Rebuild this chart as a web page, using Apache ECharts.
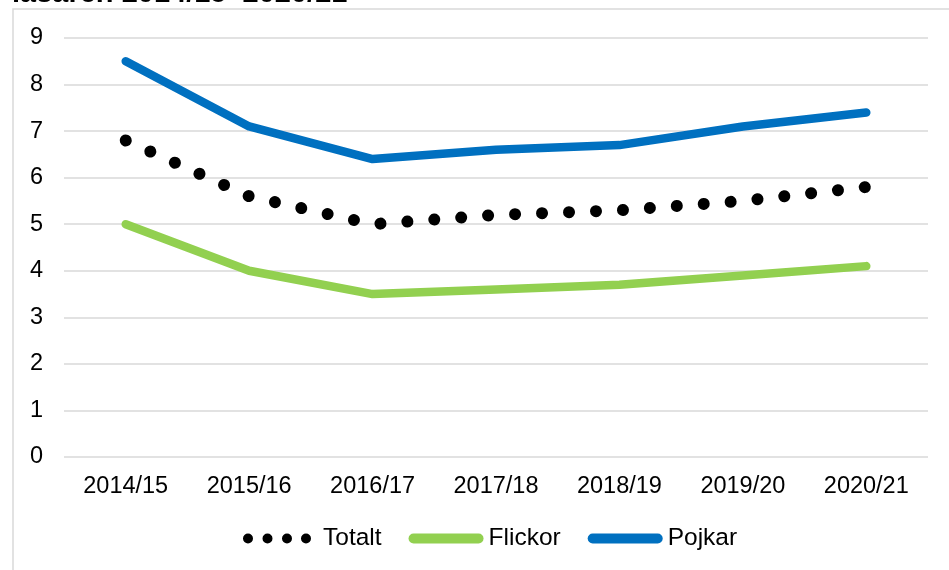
<!DOCTYPE html>
<html>
<head>
<meta charset="utf-8">
<script src="https://cdn.jsdelivr.net/npm/echarts@6/dist/echarts.min.js"></script>
<style>html,body{margin:0;padding:0;background:#fff;}#c{width:949px;height:570px;}</style>
</head>
<body>
<div id="c"></div>
<script>
const categories = ['2014/15','2015/16','2016/17','2017/18','2018/19','2019/20','2020/21'];
const totalt = [6.8, 5.6, 5.0, 5.2, 5.3, 5.5, 5.8];
const flickor = [5.0, 4.0, 3.5, 3.6, 3.7, 3.9, 4.1];
const pojkar = [8.5, 7.1, 6.4, 6.6, 6.7, 7.1, 7.4];
const titleText = 'läsåren 2014/15–2020/21';

const FONT = '"Liberation Sans", Arial, sans-serif';

function circle(cx, cy, r) {
  return 'M' + (cx + r) + ',' + cy + ' A' + r + ',' + r + ' 0 1 1 ' + (cx - r) + ',' + cy +
         ' A' + r + ',' + r + ' 0 1 1 ' + (cx + r) + ',' + cy + ' Z ';
}
const dotsIcon = 'path://M0,5 L0,5 ' + circle(5, 5, 5) + circle(24.5, 5, 5) + circle(44, 5, 5) + circle(63, 5, 5) + 'M75,5 L75,5';
const pillIcon = 'path://M5,0 L70,0 A5,5 0 0 1 70,10 L5,10 A5,5 0 0 1 5,0 Z';

const chart = echarts.init(document.getElementById('c'), null, {renderer: 'canvas'});
const option = {
  animation: false,
  backgroundColor: '#fff',
  graphic: [
    {type: 'rect', shape: {x: 13, y: 9, width: 1000, height: 1000}, style: {fill: 'none', stroke: '#d9d9d9', lineWidth: 1.5}, silent: true, z: -1},
    {type: 'text', x: 12, y: 8, style: {text: titleText, font: 'bold 29px ' + FONT, fill: '#000', verticalAlign: 'bottom'}, silent: true}
  ],
  grid: {left: 64, right: 21, top: 38, bottom: 113, containLabel: false},
  legend: {
    bottom: 19,
    left: 243,
    padding: 0,
    itemWidth: 75,
    itemHeight: 10,
    itemGap: 27,
    textStyle: {fontFamily: FONT, fontSize: 24.5, color: '#000'},
    data: [
      {name: 'Totalt', icon: dotsIcon, itemStyle: {color: '#000'}},
      {name: 'Flickor', icon: pillIcon, itemStyle: {color: '#92d050'}},
      {name: 'Pojkar', icon: pillIcon, itemStyle: {color: '#0070c0'}}
    ]
  },
  xAxis: {
    type: 'category',
    data: categories,
    boundaryGap: true,
    axisLine: {show: false},
    axisTick: {show: false},
    axisLabel: {fontFamily: FONT, fontSize: 23.5, color: '#000', margin: 18}
  },
  yAxis: {
    type: 'value',
    min: 0, max: 9, interval: 1,
    axisLine: {show: false},
    axisTick: {show: false},
    axisLabel: {fontFamily: FONT, fontSize: 23.5, color: '#000', margin: 21},
    splitLine: {lineStyle: {color: '#d9d9d9', width: 1.5}}
  },
  series: [
    {name: 'Totalt', type: 'line', data: totalt, symbol: 'none', color: '#000',
     lineStyle: {color: '#000', width: 12, type: [0.01, 27], cap: 'round'}},
    {name: 'Flickor', type: 'line', data: flickor, symbol: 'none', color: '#92d050',
     lineStyle: {color: '#92d050', width: 8.5, cap: 'round', join: 'round'}},
    {name: 'Pojkar', type: 'line', data: pojkar, symbol: 'none', color: '#0070c0',
     lineStyle: {color: '#0070c0', width: 8.5, cap: 'round', join: 'round'}}
  ]
};
chart.setOption(option);

// Fit the dot spacing so a dot lands on both ends of the Totalt line
const pts = totalt.map((v, i) => chart.convertToPixel({seriesIndex: 0}, [i, v]));
let L = 0;
for (let i = 1; i < pts.length; i++) {
  L += Math.hypot(pts[i][0] - pts[i - 1][0], pts[i][1] - pts[i - 1][1]);
}
const n = Math.max(1, Math.round(L / 27));
const gap = (L / n) * 0.998;
chart.setOption({series: [{name: 'Totalt', lineStyle: {type: [0.01, gap - 0.01]}}]});
</script>
</body>
</html>
